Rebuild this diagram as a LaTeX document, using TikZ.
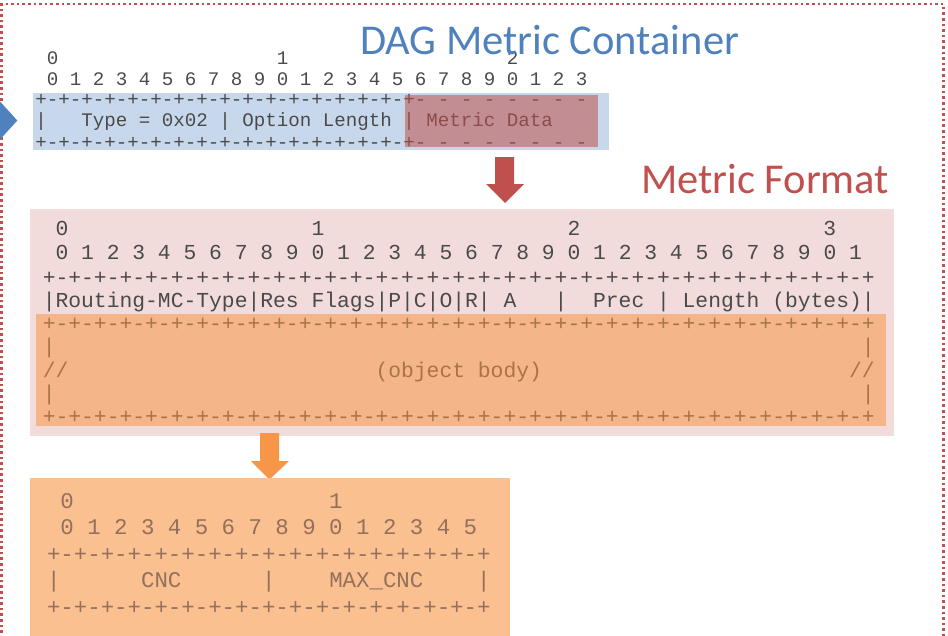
\documentclass[tikz,border=0pt]{standalone}
\usepackage{fontspec}
\newfontfamily\monof{Liberation Mono}
\newfontfamily\titlef{Carlito}
\newcommand\gapx[1]{\hspace*{\dimexpr0.6em*#1\relax}}
\definecolor{accblue}{HTML}{4F81BD}
\definecolor{accred}{HTML}{C0504D}
\definecolor{accorange}{HTML}{F79646}
\definecolor{lightblue}{HTML}{C8D8EC}
\definecolor{lightpink}{HTML}{F2DCDB}
\definecolor{lightorange}{HTML}{FAC090}
\definecolor{txtgray}{HTML}{4A4A4A}
\definecolor{txtbrown}{HTML}{94705C}
\tikzset{
  rowA/.style={anchor=base west, inner sep=0pt, outer sep=0pt, text=txtgray, font=\monof\fontsize{19.17}{20}\selectfont},
  rowB/.style={anchor=base west, inner sep=0pt, outer sep=0pt, text=txtgray, font=\monof\fontsize{21.33}{22}\selectfont},
  rowC/.style={anchor=base west, inner sep=0pt, outer sep=0pt, text=txtbrown, font=\monof\fontsize{22.4}{23}\selectfont},
  panel/.style={anchor=north west, inner sep=0pt, outer sep=0pt, draw=none},
  heading/.style={anchor=base west, inner sep=0pt, outer sep=0pt, font=\titlef\fontsize{42.5}{50}\selectfont},
  overlay/.style={panel, fill opacity=0.55},
}
\begin{document}
\begin{tikzpicture}[x=1pt,y=-1pt]
\useasboundingbox (0,0) rectangle (948,635);
\clip (0,0) rectangle (948,635);
% dotted frame
\draw[accred, line width=2.6pt, dash pattern=on 2.6pt off 3pt] (1.5,700) -- (1.5,4) -- (943.5,4) -- (943.5,700);

% ---- DAG Metric Container block
\node[panel, fill=lightblue, minimum width=576pt, minimum height=57pt] (dmc) at (33,93) {};
\fill[accblue] (-2,101.5) -- (0,101.5) -- (17.3,120.5) -- (0,139.5) -- (-2,139.5) -- cycle;
\node[rowA] (t1) at (35.3,64.6) {\gapx{1}0\gapx{19}1\gapx{19}2};
\node[rowA] (t2) at (35.3,85.3) {\gapx{1}0 1 2 3 4 5 6 7 8 9 0 1 2 3 4 5 6 7 8 9 0 1 2 3};
\node[rowA] (t3) at (35.3,105) {+-+-+-+-+-+-+-+-+-+-+-+-+-+-+-+-+- - - - - - - -};
\node[rowA] (t4) at (35.3,126.5) {|\gapx{3}Type = 0x02 | Option Length | Metric Data};
\node[rowA] (t5) at (35.3,148) {+-+-+-+-+-+-+-+-+-+-+-+-+-+-+-+-+- - - - - - - -};
\node[overlay, fill=accred, minimum width=193pt, minimum height=52pt] (mdata) at (405,95) {};
\node[heading, text=accblue] (title1) at (360,54) {DAG Metric Container};

% ---- Metric Format block
\node[heading, text=accred] (title2) at (641,193.3) {Metric Format};
\node[panel, fill=lightpink, minimum width=864pt, minimum height=227pt] (mf) at (30,209) {};
\node[rowB] (m1) at (42.8,235.3) {\gapx{1}0\gapx{19}1\gapx{19}2\gapx{19}3};
\node[rowB] (m2) at (42.8,259.3) {\gapx{1}0 1 2 3 4 5 6 7 8 9 0 1 2 3 4 5 6 7 8 9 0 1 2 3 4 5 6 7 8 9 0 1};
\node[rowB] (m3) at (42.8,284) {+-+-+-+-+-+-+-+-+-+-+-+-+-+-+-+-+-+-+-+-+-+-+-+-+-+-+-+-+-+-+-+-+};
\node[rowB] (m4) at (42.8,307) {|Routing-MC-Type|Res Flags|P|C|O|R|\gapx{1}A\gapx{3}|\gapx{2}Prec\gapx{1}|\gapx{1}Length\gapx{1}(bytes)|};
\node[rowB] (m5) at (42.8,330.3) {+-+-+-+-+-+-+-+-+-+-+-+-+-+-+-+-+-+-+-+-+-+-+-+-+-+-+-+-+-+-+-+-+};
\node[rowB] (m6) at (42.8,353.5) {|\gapx{63}|};
\node[rowB] (m7) at (42.8,377) {//\gapx{24}(object\gapx{1}body)\gapx{24}//};
\node[rowB] (m8) at (42.8,400.3) {|\gapx{63}|};
\node[rowB] (m9) at (42.8,423.6) {+-+-+-+-+-+-+-+-+-+-+-+-+-+-+-+-+-+-+-+-+-+-+-+-+-+-+-+-+-+-+-+-+};
\node[overlay, fill=accorange, minimum width=850pt, minimum height=112pt] (body) at (36,314) {};

% ---- arrows
\fill[accred] (495,157) -- (514,157) -- (514,184) -- (524,184) -- (505,203) -- (486,184) -- (495,184) -- cycle;
\fill[accorange] (260,433) -- (279,433) -- (279,461) -- (289,461) -- (269.5,479.5) -- (251,461) -- (260,461) -- cycle;

% ---- CNC block
\node[panel, fill=lightorange, minimum width=480pt, minimum height=170pt] (cnc) at (30,478) {};
\node[rowC] (b1) at (47,508) {\gapx{1}0\gapx{19}1};
\node[rowC] (b2) at (47,534.5) {\gapx{1}0 1 2 3 4 5 6 7 8 9 0 1 2 3 4 5};
\node[rowC] (b3) at (47,561) {+-+-+-+-+-+-+-+-+-+-+-+-+-+-+-+-+};
\node[rowC] (b4) at (47,587.5) {|\gapx{6}CNC\gapx{6}|\gapx{4}MAX\_CNC\gapx{4}|};
\node[rowC] (b5) at (47,614) {+-+-+-+-+-+-+-+-+-+-+-+-+-+-+-+-+};
\end{tikzpicture}
\end{document}
